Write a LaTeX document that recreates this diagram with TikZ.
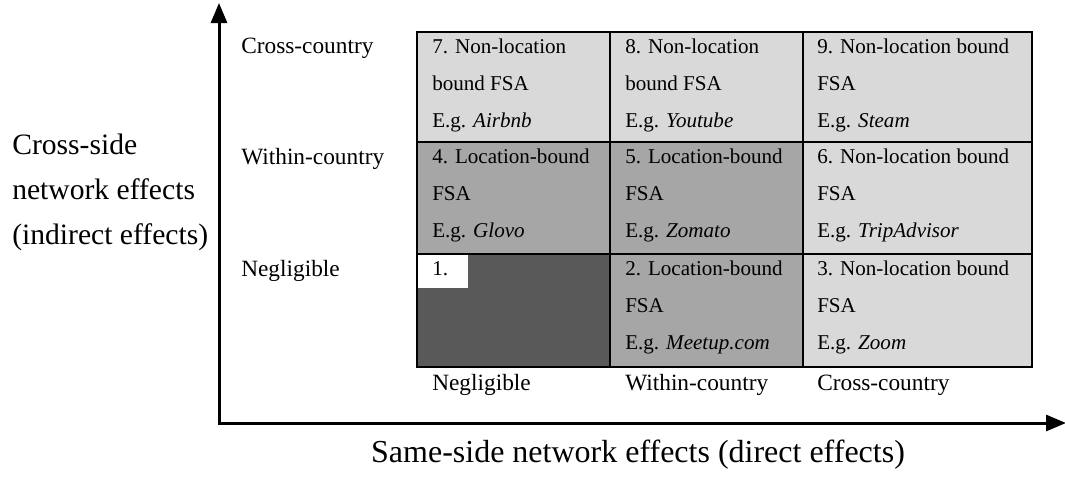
\documentclass[tikz,border=0pt]{standalone}
\usepackage{fontspec}
\setmainfont{Liberation Serif}
\usetikzlibrary{arrows.meta}
\definecolor{cellLight}{HTML}{D9D9D9}
\definecolor{cellMid}{HTML}{A6A6A6}
\definecolor{cellDark}{HTML}{595959}
\begin{document}
\begin{tikzpicture}[x=0.75pt,y=-0.75pt,
  cell/.style={draw=black,line width=1.6pt,anchor=north west,inner sep=0pt,outer sep=0pt},
  txt/.style={anchor=base west,inner sep=0pt,font=\fontsize{15.8}{19}\selectfont},
  lbl/.style={anchor=base west,inner sep=0pt,font=\fontsize{17.5}{21}\selectfont},
  big/.style={anchor=base west,inner sep=0pt,font=\fontsize{22.2}{26}\selectfont},
  axis/.style={line width=2.25pt,{Triangle[length=15pt,width=12pt]}-{Triangle[length=15pt,width=12pt]}}]
\useasboundingbox (0,0) rectangle (1065,490);
% cells
\node[cell,fill=cellLight,minimum width=144.75pt,minimum height=82.5pt] (c7) at (417,32) {};
\node[cell,fill=cellLight,minimum width=144.75pt,minimum height=82.5pt] (c8) at (610,32) {};
\node[cell,fill=cellLight,minimum width=171.75pt,minimum height=82.5pt] (c9) at (803,32) {};
\node[cell,fill=cellMid,minimum width=144.75pt,minimum height=84pt] (c4) at (417,142) {};
\node[cell,fill=cellMid,minimum width=144.75pt,minimum height=84pt] (c5) at (610,142) {};
\node[cell,fill=cellLight,minimum width=171.75pt,minimum height=84pt] (c6) at (803,142) {};
\node[cell,fill=cellDark,minimum width=144.75pt,minimum height=84.75pt] (c1) at (417,254) {};
\node[cell,fill=cellMid,minimum width=144.75pt,minimum height=84.75pt] (c2) at (610,254) {};
\node[cell,fill=cellLight,minimum width=171.75pt,minimum height=84.75pt] (c3) at (803,254) {};
\fill[white] (418,255) rectangle (468,288);
% cell texts
\node[txt] (t7a) at (432,53) {7. Non-location};
\node[txt] (t7b) at (432,90) {bound FSA};
\node[txt] (t7c) at (432,127) {E.g. \textit{Airbnb}};
\node[txt] (t8a) at (625,53) {8. Non-location};
\node[txt] (t8b) at (625,90) {bound FSA};
\node[txt] (t8c) at (625,127) {E.g. \textit{Youtube}};
\node[txt] (t9a) at (817,53) {9. Non-location bound};
\node[txt] (t9b) at (817,90) {FSA};
\node[txt] (t9c) at (817,127) {E.g. \textit{Steam}};
\node[txt] (t4a) at (432,163) {4. Location-bound};
\node[txt] (t4b) at (432,200) {FSA};
\node[txt] (t4c) at (432,237) {E.g. \textit{Glovo}};
\node[txt] (t5a) at (625,163) {5. Location-bound};
\node[txt] (t5b) at (625,200) {FSA};
\node[txt] (t5c) at (625,237) {E.g. \textit{Zomato}};
\node[txt] (t6a) at (817,163) {6. Non-location bound};
\node[txt] (t6b) at (817,200) {FSA};
\node[txt] (t6c) at (817,237) {E.g. \textit{TripAdvisor}};
\node[txt] (t1a) at (432,275) {1.};
\node[txt] (t2a) at (625,275) {2. Location-bound};
\node[txt] (t2b) at (625,312) {FSA};
\node[txt] (t2c) at (625,349) {E.g. \textit{Meetup.com}};
\node[txt] (t3a) at (817,275) {3. Non-location bound};
\node[txt] (t3b) at (817,312) {FSA};
\node[txt] (t3c) at (817,349) {E.g. \textit{Zoom}};
% row labels
\node[lbl] (r3) at (241,53) {Cross-country};
\node[lbl] (r2) at (241,164) {Within-country};
\node[lbl] (r1) at (241,276) {Negligible};
% column labels
\node[lbl] (k1) at (432,390) {Negligible};
\node[lbl] (k2) at (625,390) {Within-country};
\node[lbl] (k3) at (817,390) {Cross-country};
% axes
\coordinate (origin) at (219,423);
\coordinate (ytip) at (219,3);
\coordinate (xtip) at (1066,423);
\draw[axis] (ytip) -- (origin) -- (xtip);
% axis titles
\node[big] (yl1) at (12,154) {Cross-side};
\node[big] (yl2) at (12,199) {network effects};
\node[big] (yl3) at (12,244) {(indirect effects)};
\node[anchor=base,inner sep=0pt,font=\fontsize{24}{28}\selectfont] (xl) at (638,462) {Same-side network effects (direct effects)};
\end{tikzpicture}
\end{document}
